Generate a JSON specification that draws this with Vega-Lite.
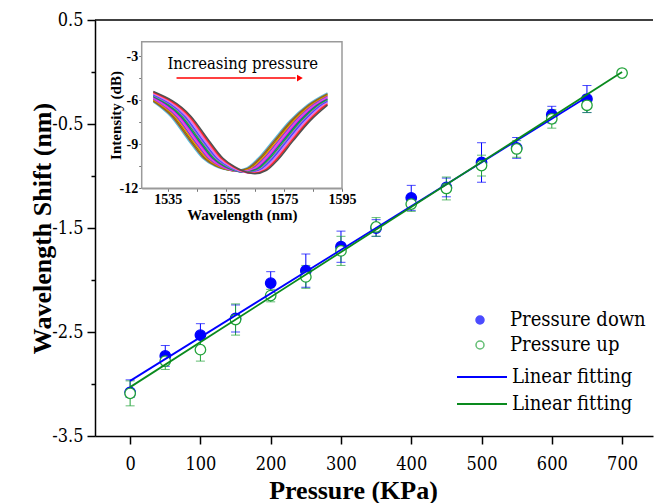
{
  "$schema": "https://vega.github.io/schema/vega-lite/v6.json",
  "width": 558,
  "height": 416,
  "autosize": {"type": "none"},
  "padding": {"left": 95, "top": 20, "right": 1, "bottom": 67},
  "background": "white",
  "config": {
    "view": {"stroke": null},
    "font": "DejaVu Serif Condensed",
    "axis": {"grid": false, "labelColor": "black", "titleColor": "black"},
    "legend": {"labelColor": "black", "padding": 0}
  },
  "datasets": {
    "pts": [
      {"s": "Pressure down", "p": 0, "v": -3.08, "lo": -3.13, "hi": -2.96},
      {"s": "Pressure down", "p": 50, "v": -2.73, "lo": -2.83, "hi": -2.63},
      {"s": "Pressure down", "p": 100, "v": -2.53, "lo": -2.64, "hi": -2.42},
      {"s": "Pressure down", "p": 150, "v": -2.37, "lo": -2.5, "hi": -2.24},
      {"s": "Pressure down", "p": 200, "v": -2.03, "lo": -2.14, "hi": -1.92},
      {"s": "Pressure down", "p": 250, "v": -1.91, "lo": -2.07, "hi": -1.75},
      {"s": "Pressure down", "p": 300, "v": -1.68, "lo": -1.83, "hi": -1.53},
      {"s": "Pressure down", "p": 350, "v": -1.5, "lo": -1.58, "hi": -1.42},
      {"s": "Pressure down", "p": 400, "v": -1.21, "lo": -1.33, "hi": -1.09},
      {"s": "Pressure down", "p": 450, "v": -1.11, "lo": -1.2, "hi": -1.02},
      {"s": "Pressure down", "p": 500, "v": -0.87, "lo": -1.06, "hi": -0.68},
      {"s": "Pressure down", "p": 550, "v": -0.73, "lo": -0.83, "hi": -0.63},
      {"s": "Pressure down", "p": 600, "v": -0.41, "lo": -0.49, "hi": -0.33},
      {"s": "Pressure down", "p": 650, "v": -0.26, "lo": -0.39, "hi": -0.13},
      {"s": "Pressure up", "p": 0, "v": -3.09, "lo": -3.21, "hi": -2.97},
      {"s": "Pressure up", "p": 50, "v": -2.78, "lo": -2.86, "hi": -2.7},
      {"s": "Pressure up", "p": 100, "v": -2.67, "lo": -2.78, "hi": -2.56},
      {"s": "Pressure up", "p": 150, "v": -2.38, "lo": -2.53, "hi": -2.23},
      {"s": "Pressure up", "p": 200, "v": -2.15, "lo": -2.21, "hi": -2.09},
      {"s": "Pressure up", "p": 250, "v": -1.97, "lo": -2.08, "hi": -1.86},
      {"s": "Pressure up", "p": 300, "v": -1.72, "lo": -1.86, "hi": -1.58},
      {"s": "Pressure up", "p": 350, "v": -1.49, "lo": -1.58, "hi": -1.4},
      {"s": "Pressure up", "p": 400, "v": -1.27, "lo": -1.34, "hi": -1.2},
      {"s": "Pressure up", "p": 450, "v": -1.12, "lo": -1.23, "hi": -1.01},
      {"s": "Pressure up", "p": 500, "v": -0.9, "lo": -1.0, "hi": -0.8},
      {"s": "Pressure up", "p": 550, "v": -0.74, "lo": -0.82, "hi": -0.66},
      {"s": "Pressure up", "p": 600, "v": -0.45, "lo": -0.54, "hi": -0.36},
      {"s": "Pressure up", "p": 650, "v": -0.32, "lo": -0.39, "hi": -0.25},
      {"s": "Pressure up", "p": 700, "v": -0.01}
    ],
    "fits": [
      {"f": "down", "p": 0, "v": -2.97},
      {"f": "down", "p": 650, "v": -0.24},
      {"f": "up", "p": 0, "v": -3.03},
      {"f": "up", "p": 700, "v": 0.0}
    ],
    "curves": [
      {"k": 0, "w": [1530,1536,1542,1547,1551,1554,1558,1562,1566,1571,1577,1583,1590], "i": [-6.10,-7.1,-8.7,-9.95,-10.47,-10.68,-10.80,-10.63,-9.97,-8.8,-7.4,-6.33,-5.50]},
      {"k": 1, "w": [1530,1536.5,1542.5,1547.5,1551.5,1554.5,1558.5,1562.5,1566.5,1571.5,1577.5,1583.5,1590], "i": [-6.05,-7.1,-8.7,-9.95,-10.47,-10.69,-10.81,-10.64,-9.97,-8.8,-7.4,-6.33,-5.56]},
      {"k": 2, "w": [1530,1537,1543,1548,1552,1555,1559,1563,1567,1572,1578,1584,1590], "i": [-6.00,-7.1,-8.7,-9.95,-10.48,-10.70,-10.83,-10.65,-9.98,-8.8,-7.4,-6.33,-5.62]},
      {"k": 3, "w": [1530,1537.5,1543.5,1548.5,1552.5,1555.5,1559.5,1563.5,1567.5,1572.5,1578.5,1584.5,1590], "i": [-5.95,-7.1,-8.7,-9.95,-10.48,-10.71,-10.84,-10.66,-9.98,-8.8,-7.4,-6.33,-5.68]},
      {"k": 4, "w": [1530,1538,1544,1549,1553,1556,1560,1564,1568,1573,1579,1585,1590], "i": [-5.90,-7.1,-8.7,-9.95,-10.49,-10.72,-10.86,-10.67,-9.99,-8.8,-7.4,-6.33,-5.74]},
      {"k": 5, "w": [1530,1538.5,1544.5,1549.5,1553.5,1556.5,1560.5,1564.5,1568.5,1573.5,1579.5,1585.5,1590], "i": [-5.85,-7.1,-8.7,-9.95,-10.49,-10.73,-10.87,-10.68,-9.99,-8.8,-7.4,-6.33,-5.80]},
      {"k": 6, "w": [1530,1539,1545,1550,1554,1557,1561,1565,1569,1574,1580,1586,1590], "i": [-5.80,-7.1,-8.7,-9.95,-10.50,-10.74,-10.88,-10.69,-10.00,-8.8,-7.4,-6.33,-5.86]},
      {"k": 7, "w": [1530,1539.5,1545.5,1550.5,1554.5,1557.5,1561.5,1565.5,1569.5,1574.5,1580.5,1586.5,1590], "i": [-5.75,-7.1,-8.7,-9.95,-10.50,-10.75,-10.90,-10.70,-10.00,-8.8,-7.4,-6.33,-5.92]},
      {"k": 8, "w": [1530,1540,1546,1551,1555,1558,1562,1566,1570,1575,1581,1587,1590], "i": [-5.70,-7.1,-8.7,-9.95,-10.50,-10.76,-10.91,-10.71,-10.00,-8.8,-7.4,-6.33,-5.97]},
      {"k": 9, "w": [1530,1540.5,1546.5,1551.5,1555.5,1558.5,1562.5,1566.5,1570.5,1575.5,1581.5,1587.5,1590], "i": [-5.65,-7.1,-8.7,-9.95,-10.51,-10.77,-10.93,-10.72,-10.01,-8.8,-7.4,-6.33,-6.03]},
      {"k": 10, "w": [1530,1541,1547,1552,1556,1559,1563,1567,1571,1576,1582,1588,1590], "i": [-5.60,-7.1,-8.7,-9.95,-10.51,-10.78,-10.94,-10.73,-10.01,-8.8,-7.4,-6.33,-6.09]},
      {"k": 11, "w": [1530,1541.5,1547.5,1552.5,1556.5,1559.5,1563.5,1567.5,1571.5,1576.5,1582.5,1588.5,1590], "i": [-5.55,-7.1,-8.7,-9.95,-10.52,-10.79,-10.95,-10.74,-10.02,-8.8,-7.4,-6.33,-6.15]},
      {"k": 12, "w": [1530,1542,1548,1553,1557,1560,1564,1568,1572,1577,1583,1589,1590], "i": [-5.50,-7.1,-8.7,-9.95,-10.52,-10.80,-10.97,-10.75,-10.02,-8.8,-7.4,-6.33,-6.21]},
      {"k": 13, "w": [1530,1542.5,1548.5,1553.5,1557.5,1560.5,1564.5,1568.5,1572.5,1577.5,1583.5,1589.5,1590], "i": [-5.45,-7.1,-8.7,-9.95,-10.52,-10.81,-10.98,-10.76,-10.02,-8.8,-7.4,-6.33,-6.27]},
      {"k": 14, "w": [1530,1543,1549,1554,1558,1561,1565,1569,1573,1578,1584,1590], "i": [-5.40,-7.1,-8.7,-9.95,-10.53,-10.82,-11.00,-10.77,-10.03,-8.8,-7.4,-6.33]}
    ]
  },
  "layer": [
    {
      "layer": [
        {
          "data": {"name": "pts"},
          "transform": [{"filter": "isValid(datum.lo)"}],
          "mark": {"type": "rule", "strokeWidth": 1},
          "encoding": {
            "x": {"field": "p", "type": "quantitative", "scale": {"domain": [-50, 744], "nice": false, "zero": false},
              "axis": {
                "values": [0,50,100,150,200,250,300,350,400,450,500,550,600,650,700],
                "labelExpr": "datum.value % 100 == 0 ? '' + datum.value : ''",
                "tickSize": {"condition": {"test": "datum.value % 100 == 0", "value": 8}, "value": 5},
                "labelFont": "DejaVu Serif Condensed", "labelFontSize": 18, "labelPadding": 11, "labelFlush": false, "labelOverlap": false,
                "domainColor": "black", "domainWidth": 1.5, "tickColor": "black", "tickWidth": 1.5,
                "title": "Pressure (KPa)", "titleFont": "Liberation Serif", "titleFontSize": 26, "titleFontWeight": "bold",
                "titleX": 258, "titleY": 62, "titleBaseline": "alphabetic", "titleAlign": "center"
              }},
            "y": {"field": "lo", "type": "quantitative", "scale": {"domain": [-3.5, 0.5], "nice": false, "zero": false},
              "axis": {
                "values": [0.5,0.25,0,-0.25,-0.5,-0.75,-1,-1.25,-1.5,-1.75,-2,-2.25,-2.5,-2.75,-3,-3.25,-3.5],
                "labelExpr": "abs(round(datum.value*4) % 4) == 2 ? '' + datum.value : ''",
                "tickSize": {"condition": {"test": "abs(round(datum.value*4) % 4) == 2", "value": 8}, "value": 4},
                "labelFont": "DejaVu Serif Condensed", "labelFontSize": 18, "labelPadding": 4, "labelFlush": false, "labelOverlap": false,
                "domainColor": "black", "domainWidth": 1.5, "tickColor": "black", "tickWidth": 1.5,
                "title": "Wavelength Shift (nm)", "titleFont": "Liberation Serif", "titleFontSize": 26, "titleFontWeight": "bold",
                "titleX": -45, "titleY": 208, "titleBaseline": "alphabetic", "titleAlign": "center", "titleAngle": -90
              }},
            "y2": {"field": "hi"},
            "stroke": {"field": "s", "type": "nominal", "scale": {"domain": ["Pressure down", "Pressure up"], "range": ["#0000ff", "#22a33a"]}}
          }
        },
        {
          "data": {"name": "pts"},
          "transform": [{"filter": "isValid(datum.lo)"}],
          "mark": {"type": "point", "shape": "stroke", "size": 81, "strokeWidth": 1, "filled": false},
          "encoding": {
            "x": {"field": "p", "type": "quantitative"},
            "y": {"field": "lo", "type": "quantitative"},
            "stroke": {"field": "s", "type": "nominal"}
          }
        },
        {
          "data": {"name": "pts"},
          "transform": [{"filter": "isValid(datum.lo)"}],
          "mark": {"type": "point", "shape": "stroke", "size": 81, "strokeWidth": 1, "filled": false},
          "encoding": {
            "x": {"field": "p", "type": "quantitative"},
            "y": {"field": "hi", "type": "quantitative"},
            "stroke": {"field": "s", "type": "nominal"}
          }
        },
        {
          "data": {"name": "pts"},
          "mark": {"type": "point", "shape": "circle", "filled": true, "size": 110, "strokeWidth": 1.3, "opacity": 1},
          "encoding": {
            "x": {"field": "p", "type": "quantitative"},
            "y": {"field": "v", "type": "quantitative"},
            "fill": {"field": "s", "type": "nominal", "scale": {"domain": ["Pressure down", "Pressure up"], "range": ["#0000ff", "#ffffff"]},
              "legend": {"orient": "none", "legendX": 375, "legendY": 290, "title": null, "symbolType": "circle", "symbolSize": 64, "symbolStrokeWidth": 1.5, "labelOffset": 20, "rowPadding": 5, "labelFont": "DejaVu Serif Condensed", "labelFontSize": 20}},
            "stroke": {"field": "s", "type": "nominal",
              "legend": {"orient": "none", "legendX": 375, "legendY": 290, "title": null, "symbolType": "circle", "symbolSize": 64, "symbolStrokeWidth": 1.5, "labelOffset": 20, "rowPadding": 5, "labelFont": "DejaVu Serif Condensed", "labelFontSize": 20}}
          }
        },
        {
          "data": {"name": "fits"},
          "mark": {"type": "line", "strokeWidth": 1.8},
          "encoding": {
            "x": {"field": "p", "type": "quantitative"},
            "y": {"field": "v", "type": "quantitative"},
            "color": {"field": "f", "type": "nominal", "scale": {"domain": ["down", "up"], "range": ["#0000ff", "#0a8a1e"]},
              "legend": {"orient": "none", "legendX": 361, "legendY": 346, "title": null, "symbolType": "stroke", "symbolSize": 2500, "symbolStrokeWidth": 1.8, "labelOffset": 4, "clipHeight": 22, "rowPadding": 5, "labelFont": "DejaVu Serif Condensed", "labelFontSize": 20, "labelExpr": "'Linear fitting'"}}
          }
        },
        {
          "data": {"values": [{"edge": "top"}]},
          "mark": {"type": "rule", "color": "black", "strokeWidth": 1.5},
          "encoding": {"y": {"datum": 0.5, "type": "quantitative"}}
        }
      ]
    },
    {
      "layer": [
        {
          "data": {"values": [{"note": "Increasing pressure"}]},
          "mark": {"type": "rect", "fill": "white", "stroke": "#9a9a9a", "strokeWidth": 1.5},
          "encoding": {
            "x": {"datum": 1526, "type": "quantitative", "scale": {"domain": [1526, 1595], "range": [46.7, 247], "nice": false, "zero": false},
              "axis": {
                "orient": "bottom", "offset": -247.7,
                "values": [1535,1545,1555,1565,1575,1585,1595],
                "labelExpr": "(datum.value - 1535) % 20 == 0 ? '' + datum.value : ''",
                "tickSize": 3, "tickColor": "#777777", "domainColor": "#9a9a9a", "domainWidth": 1.5,
                "labelFont": "Liberation Serif", "labelFontSize": 14, "labelFontWeight": "bold", "labelPadding": 1, "labelFlush": false, "labelOverlap": false,
                "title": "Wavelength (nm)", "titleFont": "Liberation Serif", "titleFontSize": 15, "titleFontWeight": "bold", "titlePadding": 1
              }},
            "x2": {"datum": 1595},
            "y": {"datum": -12, "type": "quantitative", "scale": {"domain": [-12, -2], "range": [168.3, 21.7], "nice": false, "zero": false},
              "axis": {
                "orient": "left", "offset": -46.7,
                "values": [-12,-10.5,-9,-7.5,-6,-4.5,-3],
                "labelExpr": "datum.value % 3 == 0 ? '' + datum.value : ''",
                "tickSize": 3, "tickColor": "#777777", "domainColor": "#9a9a9a", "domainWidth": 1.5,
                "labelFont": "Liberation Serif", "labelFontSize": 14, "labelFontWeight": "bold", "labelPadding": 1, "labelFlush": false, "labelOverlap": false,
                "title": "Intensity (dB)", "titleFont": "Liberation Serif", "titleFontSize": 15, "titleFontWeight": "bold", "titlePadding": -4
              }},
            "y2": {"datum": -2}
          }
        },
        {
          "data": {"name": "curves"},
          "transform": [{"flatten": ["w", "i"]}],
          "mark": {"type": "line", "interpolate": "monotone", "strokeWidth": 1.5},
          "encoding": {
            "x": {"field": "w", "type": "quantitative"},
            "y": {"field": "i", "type": "quantitative"},
            "color": {"field": "k", "type": "nominal", "legend": null,
              "scale": {"range": ["#5bc0de","#a0522d","#808000","#ff8c00","#8a2be2","#d070d0","#ff00ff","#008080","#2ca02c","#9370db","#4040ff","#c080ff","#ff69b4","#ff2020","#505050"]}}
          }
        },
        {
          "data": {"values": [{"note": "Increasing pressure"}]},
          "mark": {"type": "text", "font": "DejaVu Serif Condensed", "fontSize": 16.5, "align": "center", "baseline": "middle", "color": "black"},
          "encoding": {
            "x": {"datum": 1560.8, "type": "quantitative"},
            "y": {"datum": -3.5, "type": "quantitative"},
            "text": {"field": "note"}
          }
        },
        {
          "data": {"values": [{"note": "arrow"}]},
          "mark": {"type": "rule", "color": "#ff0000", "strokeWidth": 1.5},
          "encoding": {
            "x": {"datum": 1538, "type": "quantitative"},
            "x2": {"datum": 1579},
            "y": {"datum": -4.48, "type": "quantitative"}
          }
        },
        {
          "data": {"values": [{"note": "arrowhead"}]},
          "mark": {"type": "point", "shape": "triangle-right", "filled": true, "color": "#ff0000", "size": 45, "opacity": 1},
          "encoding": {
            "x": {"datum": 1580.5, "type": "quantitative"},
            "y": {"datum": -4.48, "type": "quantitative"}
          }
        }
      ]
    }
  ],
  "resolve": {"scale": {"x": "independent", "y": "independent", "color": "independent"}}
}
